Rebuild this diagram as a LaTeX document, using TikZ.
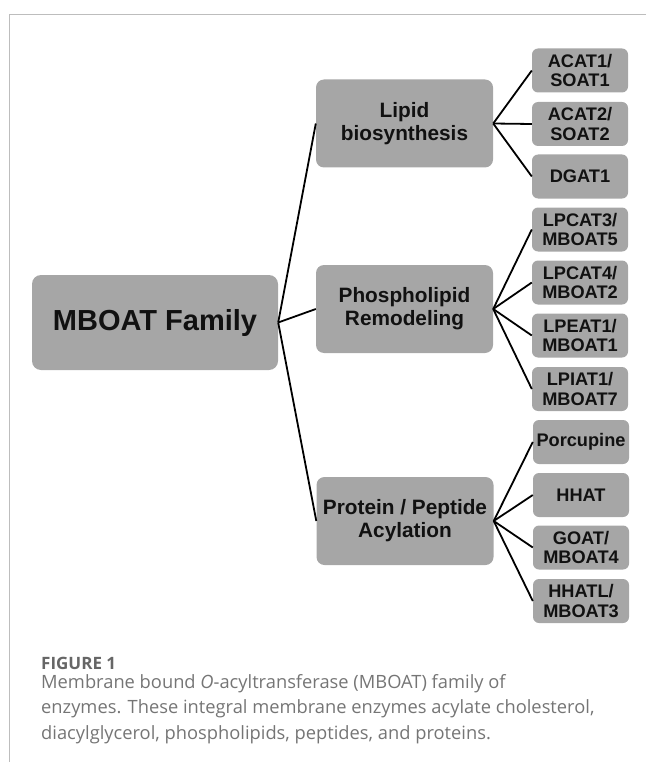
\documentclass[tikz,border=0pt]{standalone}
\usepackage{fontspec}
\setmainfont{Liberation Sans}
\newfontfamily\capfont{Open Sans}
\definecolor{boxgray}{HTML}{A6A6A6}
\definecolor{framegray}{HTML}{BDBDBD}
\definecolor{capgray}{HTML}{757575}
\definecolor{capgrayb}{HTML}{666666}
\definecolor{txt}{HTML}{111111}
\tikzset{
  box/.style={fill=boxgray, rounded corners=6pt, inner sep=0pt, align=center, text=txt},
  rootbox/.style={box, rounded corners=9pt, minimum width=246pt, minimum height=95pt, font=\fontsize{29}{32}\selectfont\bfseries},
  midbox/.style={box, rounded corners=8pt, minimum width=177pt, minimum height=88pt, font=\fontsize{20.8}{23}\selectfont\bfseries},
  leafbox/.style={box, minimum width=96pt, minimum height=44pt, font=\fontsize{18.2}{19.5}\selectfont\bfseries},
  link/.style={draw=black, line width=1.8pt},
  frame/.style={draw=framegray, line width=1pt},
  captext/.style={anchor=base west, inner sep=0pt, text=capgray, font=\capfont\fontsize{18.3}{22}\selectfont}
}
\begin{document}
\begin{tikzpicture}[x=1pt,y=-1pt]
\useasboundingbox (0,0) rectangle (646,762);
\coordinate (ftop) at (646,14.5);
\coordinate (fcorner) at (9.5,14.5);
\coordinate (fbot) at (9.5,762);
\draw[frame] (ftop) -- (fcorner) -- (fbot);

\node[rootbox] (root) at (155,322.5) {MBOAT Family};
\node[midbox] (lipid) at (404.5,123.5) {Lipid\\biosynthesis};
\node[midbox] (phos) at (404.5,309) {Phospholipid\\Remodeling};
\node[midbox] (prot) at (405,521) {Protein / Peptide\\Acylation};

\node[leafbox] (acat1) at (580,70.5) {ACAT1/\\SOAT1};
\node[leafbox] (acat2) at (580,124) {ACAT2/\\SOAT2};
\node[leafbox] (dgat1) at (580,176.5) {DGAT1};
\node[leafbox] (lpcat3) at (580,229.5) {LPCAT3/\\MBOAT5};
\node[leafbox] (lpcat4) at (580,282.5) {LPCAT4/\\MBOAT2};
\node[leafbox] (lpeat1) at (580,335.5) {LPEAT1/\\MBOAT1};
\node[leafbox] (lpiat1) at (580,389) {LPIAT1/\\MBOAT7};
\node[leafbox] (porc) at (581,442) {Porcupine};
\node[leafbox] (hhat) at (581,495) {HHAT};
\node[leafbox] (goat) at (581,547.5) {GOAT/\\MBOAT4};
\node[leafbox] (hhatl) at (581,601) {HHATL/\\MBOAT3};

\foreach \m in {lipid,phos,prot} \draw[link] (root.east) -- (\m.west);
\foreach \l in {acat1,acat2,dgat1} \draw[link] (lipid.east) -- (\l.west);
\foreach \l in {lpcat3,lpcat4,lpeat1,lpiat1} \draw[link] (phos.east) -- (\l.west);
\foreach \l in {porc,hhat,goat,hhatl} \draw[link] (prot.east) -- (\l.west);

\node[anchor=base west, inner sep=0pt, text=capgrayb, font=\capfont\fontsize{17}{20}\selectfont\bfseries] (fig) at (41,669) {FIGURE 1};
\node[captext] (cap1) at (41,688) {Membrane bound \textit{O}-acyltransferase (MBOAT) family of};
\node[captext] (cap2) at (41,713.5) {enzymes. These integral membrane enzymes acylate cholesterol,};
\node[captext] (cap3) at (41,739) {diacylglycerol, phospholipids, peptides, and proteins.};
\end{tikzpicture}
\end{document}
